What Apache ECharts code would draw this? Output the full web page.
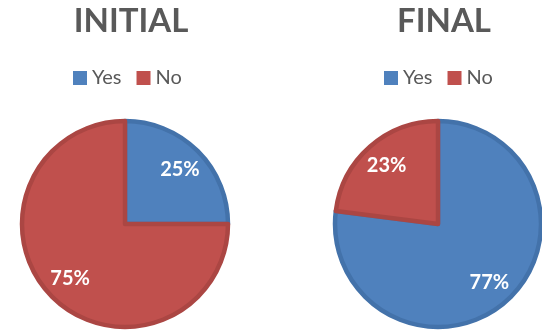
<!DOCTYPE html>
<html>
<head>
<meta charset="utf-8">
<script src="https://cdn.jsdelivr.net/npm/echarts@6/dist/echarts.min.js"></script>
<style>
  html, body { margin: 0; padding: 0; background: #fff; }
  #chart { width: 542px; height: 330px; }
</style>
</head>
<body>
<div id="chart"></div>
<script>
// Survey answers before and after, in percent
const categories = ['Yes', 'No'];
const initialValues = [25, 75];
const finalValues = [77, 23];
const panelTitles = ['INITIAL', 'FINAL'];

const fills = { Yes: '#4F81BD', No: '#C0504D' };
const edges = { Yes: '#4372AA', No: '#AB4643' };
const font = 'Lato, "Open Sans", sans-serif';

const centersX = [125, 438];
const legendLeft = [73, 384];
const centerY = 224;
const radius = 103;

function sliceData(values) {
  return categories.map((name, i) => ({
    name,
    value: values[i],
    itemStyle: { color: fills[name], borderColor: edges[name], borderWidth: 4.5 }
  }));
}

function labelData(values) {
  return categories.map((name, i) => ({ name, value: values[i] }));
}

const panels = [initialValues, finalValues];
const series = [];
panels.forEach((values, p) => {
  // filled slices
  series.push({
    type: 'pie',
    center: [centersX[p], centerY],
    radius: [0, radius],
    startAngle: 90,
    clockwise: true,
    label: { show: false },
    labelLine: { show: false },
    emphasis: { disabled: true },
    silent: true,
    animation: false,
    data: sliceData(values)
  });
  // transparent ring carrying the percentage labels further out
  series.push({
    type: 'pie',
    center: [centersX[p], centerY],
    radius: [radius * 0.45, radius],
    startAngle: 90,
    clockwise: true,
    legendHoverLink: false,
    itemStyle: { color: 'transparent', borderWidth: 0 },
    label: {
      show: true,
      position: 'inside',
      formatter: '{c}%',
      color: '#ffffff',
      fontFamily: font,
      fontWeight: 'bold',
      fontSize: 20
    },
    labelLine: { show: false },
    emphasis: { disabled: true },
    silent: true,
    animation: false,
    data: labelData(values)
  });
});

const chart = echarts.init(document.getElementById('chart'), null, { renderer: 'canvas' });
chart.setOption({
  backgroundColor: '#ffffff',
  animation: false,
  title: panelTitles.map((t, i) => ({
    text: t,
    left: centersX[i] + 1,
    top: 0,
    textAlign: 'center',
    textStyle: { fontFamily: font, fontWeight: 'bold', fontSize: 33, color: '#595959' }
  })),
  legend: legendLeft.map((lx, i) => ({
    data: categories.map(n => ({ name: n, itemStyle: { color: fills[n], borderWidth: 0 } })),
    seriesIndex: [i * 2],
    left: lx,
    top: 68,
    width: 200,
    orient: 'horizontal',
    padding: 0,
    itemWidth: 14,
    itemHeight: 14,
    itemGap: 15,
    icon: 'rect',
    selectedMode: false,
    textStyle: { fontFamily: font, fontSize: 20, color: '#595959' }
  })),
  series
});
</script>
</body>
</html>
